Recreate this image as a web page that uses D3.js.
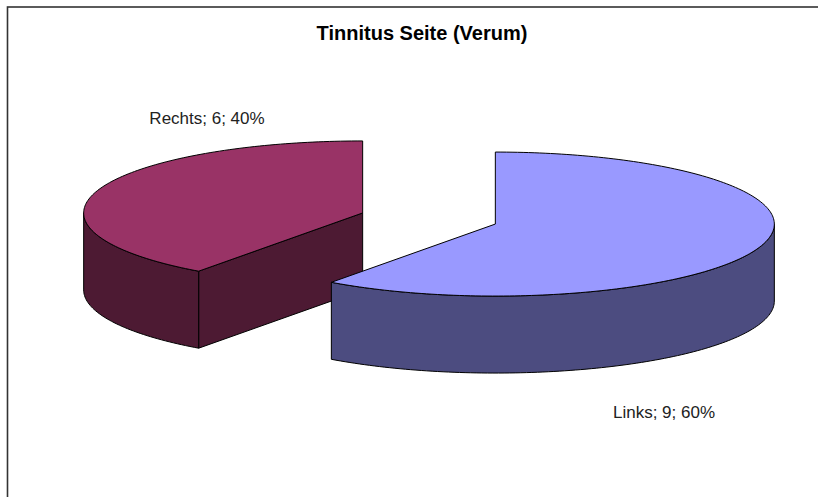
<!DOCTYPE html>
<html>
<head>
<meta charset="utf-8">
<script src="https://cdn.jsdelivr.net/npm/d3@7"></script>
<style>
  html, body { margin: 0; padding: 0; background: #fff; }
  svg { display: block; }
</style>
</head>
<body>
<svg id="chart" width="818" height="497"></svg>
<script>
// Data
const categories = ["Links", "Rechts"];
const counts = [9, 6];
const percentLabels = ["60%", "40%"];
const topColors = ["#9999FF", "#993366"];
const sideColors = ["#4C4C80", "#4D1A33"];
const chartTitle = "Tinnitus Seite (Verum)";

const svg = d3.select("#chart");
const W = 818, H = 497;

// Frame around the chart area (continues past the right and bottom edges)
svg.append("rect")
  .attr("x", 7.5).attr("y", 7)
  .attr("width", 840).attr("height", 520)
  .attr("fill", "#fff")
  .attr("stroke", "#333").attr("stroke-width", 1.6);

// Title
svg.append("text")
  .attr("x", 422).attr("y", 40)
  .attr("text-anchor", "middle")
  .attr("font-family", "Liberation Sans, Arial, sans-serif")
  .attr("font-size", 20).attr("font-weight", "bold")
  .attr("fill", "#000")
  .text(chartTitle);

// 3D pie geometry: ellipse radii, extrusion depth, explode factor
const base = { x: 429, y: 218.5 };
const rx = 279, ry = 72, depth = 77, explode = 0.25;

// Angles measured clockwise from 12 o'clock
const pie = d3.pie().sort(null).value(d => d.value).startAngle(0).endAngle(2 * Math.PI);
const data = categories.map((c, i) => ({ name: c, value: counts[i], pct: percentLabels[i], i }));
const arcs = pie(data);

// projected point on the top ellipse of a slice
function pt(c, a, dy = 0) {
  return [c.x + rx * Math.sin(a), c.y - ry * Math.cos(a) + dy];
}

function arcPath(p, c, a0, a1, dy) {
  const steps = Math.max(4, Math.ceil(Math.abs(a1 - a0) / 0.02));
  for (let k = 1; k <= steps; k++) {
    const a = a0 + (a1 - a0) * k / steps;
    const q = pt(c, a, dy);
    p.lineTo(q[0], q[1]);
  }
}

const slices = arcs.map(a => {
  const mid = (a.startAngle + a.endAngle) / 2;
  const c = {
    x: base.x + explode * rx * Math.sin(mid),
    y: base.y - explode * ry * Math.cos(mid)
  };
  return { a, c };
});

// draw back slices first (smaller center y first)
const order = slices.slice().sort((s, t) => s.c.y - t.c.y);
const g = svg.append("g").attr("stroke", "#000").attr("stroke-width", 1).attr("stroke-linejoin", "round");

order.forEach(({ a, c }) => {
  const i = a.data.i;
  const a0 = a.startAngle, a1 = a.endAngle;

  // cut faces along the radii
  const faces = [];
  if (Math.sin(a0) < -1e-6) faces.push(a0);
  if (Math.sin(a1) > 1e-6) faces.push(a1);
  faces.forEach(ang => {
    const p = d3.path();
    const e = pt(c, ang);
    p.moveTo(c.x, c.y);
    p.lineTo(e[0], e[1]);
    p.lineTo(e[0], e[1] + depth);
    p.lineTo(c.x, c.y + depth);
    p.closePath();
    g.append("path").attr("d", p.toString()).attr("fill", sideColors[i]);
  });

  // outer curved wall, visible between 90° and 270°
  const s0 = Math.max(a0, Math.PI / 2), s1 = Math.min(a1, 3 * Math.PI / 2);
  if (s1 > s0) {
    const p = d3.path();
    const st = pt(c, s0);
    p.moveTo(st[0], st[1]);
    arcPath(p, c, s0, s1, 0);
    const en = pt(c, s1, depth);
    p.lineTo(en[0], en[1]);
    arcPath(p, c, s1, s0, depth);
    p.closePath();
    g.append("path").attr("d", p.toString()).attr("fill", sideColors[i]);
  }

  // top face
  const p = d3.path();
  p.moveTo(c.x, c.y);
  const st = pt(c, a0);
  p.lineTo(st[0], st[1]);
  arcPath(p, c, a0, a1, 0);
  p.closePath();
  g.append("path").attr("d", p.toString()).attr("fill", topColors[i]);
});

// Data labels: "category; value; percent"
const labelPos = { Links: [664, 418], Rechts: [207, 124] };
data.forEach(d => {
  svg.append("text")
    .attr("x", labelPos[d.name][0]).attr("y", labelPos[d.name][1])
    .attr("text-anchor", "middle")
    .attr("font-family", "Liberation Sans, Arial, sans-serif")
    .attr("font-size", 17)
    .attr("fill", "#222")
    .text(`${d.name}; ${d.value}; ${d.pct}`);
});
</script>
</body>
</html>
